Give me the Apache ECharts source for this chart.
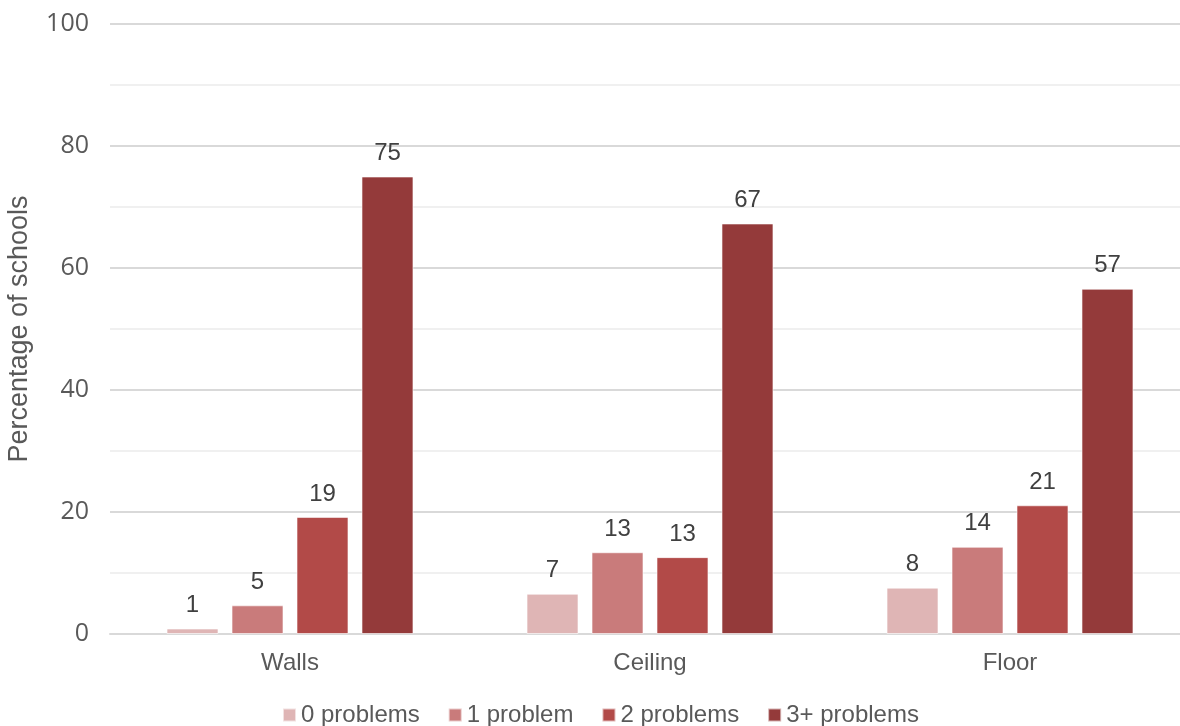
<!DOCTYPE html>
<html>
<head>
<meta charset="utf-8">
<script src="https://cdn.jsdelivr.net/npm/echarts@6/dist/echarts.min.js"></script>
<style>
html,body{margin:0;padding:0;background:#fff;}
#main{width:1180px;height:726px;}
</style>
</head>
<body>
<div id="main"></div>
<script>
var categories = ['Walls', 'Ceiling', 'Floor'];
var seriesNames = ['0 problems', '1 problem', '2 problems', '3+ problems'];
var zeroProblems = [0.9, 6.6, 7.6];
var oneProblem = [4.7, 13.4, 14.3];
var twoProblems = [19.2, 12.6, 21.1];
var threePlusProblems = [75.0, 67.3, 56.6];
var colors = ['#dfb5b5', '#c97b7b', '#b24a48', '#943a3a'];
var yTicks = [0, 20, 40, 60, 80, 100];

var ARIAL = 'Liberation Sans, Arial, sans-serif';
var allValues = [zeroProblems, oneProblem, twoProblems, threePlusProblems];
var chart = echarts.init(document.getElementById('main'));
var series = seriesNames.map(function (name, i) {
  return {
    name: name,
    type: 'bar',
    data: allValues[i],
    barGap: '25%',
    barCategoryGap: '31.4%',
    itemStyle: { color: colors[i], borderColor: 'rgba(255,255,255,0.6)', borderWidth: 1 },
    label: {
      show: true,
      position: 'top',
      distance: 11,
      color: '#404040',
      fontSize: 24,
      fontFamily: ARIAL,
      formatter: function (p) { return Math.round(p.value); }
    }
  };
});

chart.setOption({
  animation: false,
  color: colors,
  grid: { left: 110, right: -10, top: 24, bottom: 92, containLabel: false, outerBoundsMode: 'none' },
  legend: {
    top: 703,
    left: 282,
    padding: 0,
    itemWidth: 13,
    itemHeight: 13,
    itemGap: 28,
    icon: 'rect',
    textStyle: { color: '#595959', fontSize: 24, fontFamily: ARIAL, padding: [0, 0, 0, 0] },
    data: seriesNames
  },
  xAxis: {
    type: 'category',
    data: categories,
    axisLine: { show: true, lineStyle: { color: '#d9d9d9', width: 2 } },
    axisTick: { show: false },
    axisLabel: { color: '#595959', fontSize: 24, margin: 17, fontFamily: ARIAL }
  },
  yAxis: {
    type: 'value',
    min: yTicks[0],
    max: yTicks[yTicks.length - 1],
    interval: 20,
    name: 'Percentage of schools',
    nameLocation: 'middle',
    nameGap: 77,
    nameTextStyle: { color: '#595959', fontSize: 27, fontFamily: ARIAL },
    axisLine: { show: false },
    axisTick: { show: false },
    axisLabel: { color: '#595959', fontSize: 25, margin: 21, fontFamily: 'Open Sans, sans-serif' },
    splitLine: { show: true, lineStyle: { color: '#d9d9d9', width: 2 } },
    minorTick: { show: false, splitNumber: 2 },
    minorSplitLine: { show: true, lineStyle: { color: '#f0f0f0', width: 2 } }
  },
  series: series
});
</script>
</body>
</html>
